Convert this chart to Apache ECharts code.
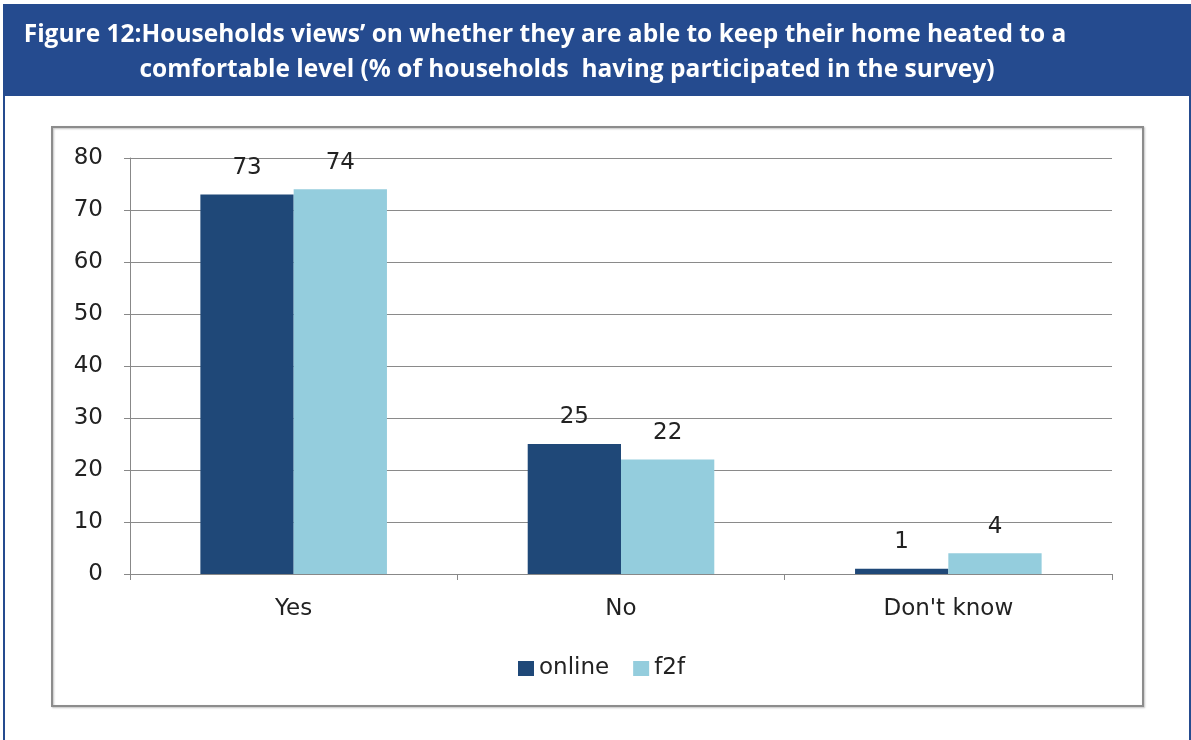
<!DOCTYPE html>
<html>
<head>
<meta charset="utf-8">
<script src="https://cdn.jsdelivr.net/npm/echarts@6/dist/echarts.min.js"></script>
<style>
  html, body { margin: 0; padding: 0; background: #ffffff; }
  #chart { width: 1191px; height: 740px; }
</style>
</head>
<body>
<div id="chart"></div>
<script>
// Survey answers on keeping the home comfortably heated (% of households)
const categories = ['Yes', 'No', "Don't know"];
const onlineValues = [73, 25, 1];
const f2fValues = [74, 22, 4];
const yTicks = [0, 10, 20, 30, 40, 50, 60, 70, 80];

const titleLines = [
  'Figure 12:Households views\u2019 on whether they are able to keep their home heated to a',
  'comfortable level (% of households  having participated in the survey)'
];

const TITLE_FONT = '"Open Sans", "Noto Sans", sans-serif';
const FONT = '"DejaVu Sans", "Noto Sans", sans-serif';
const BLUE = '#254b8f';

const chart = echarts.init(document.getElementById('chart'), null, { renderer: 'canvas' });

const labelStyle = {
  show: true,
  position: 'top',
  distance: 15,
  fontFamily: FONT,
  fontSize: 23,
  color: '#222222'
};

chart.setOption({
  animation: false,
  backgroundColor: '#ffffff',
  graphic: [
    // outer frame
    { type: 'rect', shape: { x: 4, y: 5, width: 1186, height: 760 },
      style: { fill: 'none', stroke: BLUE, lineWidth: 2 }, z: 1 },
    // header band
    { type: 'rect', shape: { x: 3, y: 5, width: 1188, height: 91 },
      style: { fill: BLUE }, z: 2 },
    { type: 'text', x: 545, y: 23, z: 3,
      style: { text: titleLines[0], fill: '#ffffff', font: 'bold 24.5px ' + TITLE_FONT, textAlign: 'center' } },
    { type: 'text', x: 567, y: 58, z: 3,
      style: { text: titleLines[1], fill: '#ffffff', font: 'bold 24.5px ' + TITLE_FONT, textAlign: 'center' } },
    // chart area box
    { type: 'rect', shape: { x: 52, y: 127, width: 1091, height: 579 },
      style: { fill: 'none', stroke: '#8c8c8c', lineWidth: 2, shadowColor: 'rgba(0,0,0,0.25)', shadowBlur: 2, shadowOffsetX: 1, shadowOffsetY: 1 }, z: 1 }
  ],
  grid: { left: 130, right: 79, top: 158, bottom: 166, containLabel: false },
  legend: {
    data: ['online', 'f2f'],
    left: 513,
    top: 652,
    itemWidth: 16,
    itemHeight: 15,
    itemGap: 24,
    icon: 'rect',
    textStyle: { fontFamily: FONT, fontSize: 23, color: '#222222' }
  },
  xAxis: {
    type: 'category',
    data: categories,
    axisLine: { lineStyle: { color: '#888888', width: 1 } },
    axisTick: { show: true, length: 6, alignWithLabel: false, lineStyle: { color: '#888888' } },
    axisLabel: { fontFamily: FONT, fontSize: 23, color: '#222222', margin: 24 }
  },
  yAxis: {
    type: 'value',
    min: 0,
    max: 80,
    interval: 10,
    axisLine: { show: true, lineStyle: { color: '#888888' } },
    axisTick: { show: true, length: 6, lineStyle: { color: '#888888' } },
    splitLine: { lineStyle: { color: '#8a8a8a', width: 1 } },
    axisLabel: {
      fontFamily: FONT, fontSize: 23, color: '#222222', margin: 27,
      formatter: v => yTicks.includes(v) ? String(v) : ''
    }
  },
  series: [
    {
      name: 'online', type: 'bar', data: onlineValues,
      barGap: '0%', barCategoryGap: '43%',
      itemStyle: { color: '#1f4878' },
      label: labelStyle
    },
    {
      name: 'f2f', type: 'bar', data: f2fValues,
      barGap: '0%', barCategoryGap: '43%',
      itemStyle: { color: '#94cddd' },
      label: labelStyle
    }
  ]
});
</script>
</body>
</html>
